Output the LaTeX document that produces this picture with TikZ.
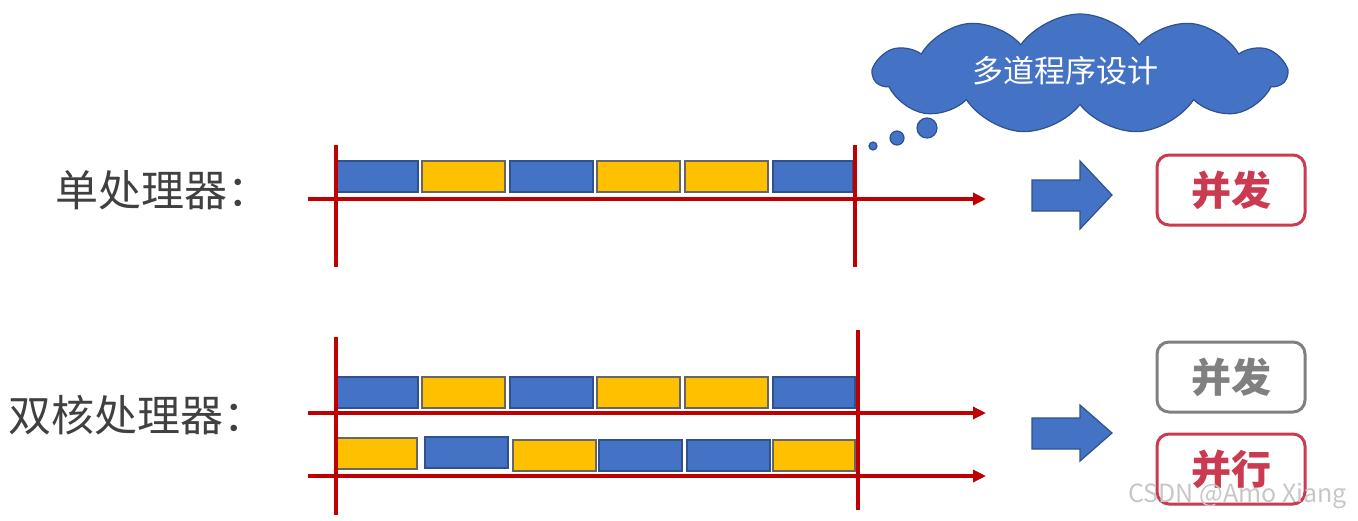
\documentclass[tikz,border=0pt]{standalone}
\usepackage{fontspec}
\setmainfont{Noto Sans CJK SC}
\usetikzlibrary{arrows.meta, shapes.symbols}
\definecolor{cpublue}{HTML}{4472C4}
\definecolor{cpublueedge}{HTML}{2F528F}
\definecolor{cpuyellow}{HTML}{FFC000}
\definecolor{timered}{HTML}{C00000}
\definecolor{tagred}{HTML}{CA3A50}
\definecolor{taggray}{HTML}{808080}
\definecolor{labelgray}{HTML}{404040}
\begin{document}
\begin{tikzpicture}[x=0.5pt, y=-0.5pt,
  bluejob/.style={draw=cpublueedge, fill=cpublue, line width=0.6pt},
  yellowjob/.style={draw=black!60, fill=cpuyellow, line width=0.6pt},
  timeline/.style={draw=timered, line width=2pt},
  timeaxis/.style={timeline, -{Triangle[length=6.5pt,width=6pt]}},
  tag/.style={draw=#1, text=#1, line width=1.5pt, rounded corners=6pt,
    minimum width=74pt, minimum height=35pt, font=\fontsize{20}{24}\selectfont\bfseries},
  cpulabel/.style={anchor=west, text=labelgray, font=\fontsize{21.5}{26}\selectfont, inner sep=0pt},
  bigarrow/.style={draw=cpublueedge, fill=cpublue, line width=0.6pt}]

\useasboundingbox (0,0) rectangle (1358,520);

% cloud
\node[cloud, cloud puffs=11, cloud puff arc=110, cloud ignores aspect,
  draw=cpublueedge, fill=cpublue, line width=0.6pt,
  minimum width=206pt, minimum height=60pt] (cloud) at (1080,74) {};
\node[text=white, font=\fontsize{15.5}{18}\selectfont] (cloudtext) at (1065,71) {多道程序设计};
\draw[bigarrow] (927,128) circle (5pt);
\draw[bigarrow] (897,138) circle (3.5pt);
\draw[bigarrow] (873,146) circle (2pt);

% single processor
\node[cpulabel] (single) at (55,190) {单处理器：};

\coordinate (s0) at (308,199);
\coordinate (s1) at (986,199);
\coordinate (sa) at (336,145);
\coordinate (sb) at (336,267);
\coordinate (sc) at (855,145);
\coordinate (sd) at (855,267);

\draw[bluejob] (337,161) rectangle (418,192);
\draw[yellowjob] (422,161) rectangle (505,192);
\draw[bluejob] (510,161) rectangle (593,192);
\draw[yellowjob] (597,161) rectangle (680,192);
\draw[yellowjob] (685,161) rectangle (768,192);
\draw[bluejob] (773,161) rectangle (853,192);

\draw[timeaxis] (s0) -- (s1);
\draw[timeline] (sa) -- (sb);
\draw[timeline] (sc) -- (sd);

\draw[bigarrow] (1032,180) -- (1080,180) -- (1080,161) -- (1112,195)
  -- (1080,229) -- (1080,211) -- (1032,211) -- cycle;
\node[tag=tagred] (conc1) at (1231,190) {并发};

% dual core
\node[cpulabel] (dual) at (8,415) {双核处理器：};

\coordinate (d0) at (308,413);
\coordinate (d1) at (986,413);
\coordinate (e0) at (308,476);
\coordinate (e1) at (986,476);
\coordinate (da) at (336,337);
\coordinate (db) at (336,515);
\coordinate (dc) at (858,330);
\coordinate (dd) at (858,510);

\draw[bluejob] (337,377) rectangle (418,408);
\draw[yellowjob] (422,377) rectangle (505,408);
\draw[bluejob] (510,377) rectangle (593,408);
\draw[yellowjob] (597,377) rectangle (680,408);
\draw[yellowjob] (685,377) rectangle (768,408);
\draw[bluejob] (773,377) rectangle (855,408);

\draw[yellowjob] (336,438) rectangle (417,469);
\draw[bluejob] (425,437) rectangle (508,468);
\draw[yellowjob] (513,440) rectangle (596,471);
\draw[bluejob] (599,440) rectangle (682,471);
\draw[bluejob] (687,440) rectangle (770,471);
\draw[yellowjob] (773,440) rectangle (855,471);

\draw[timeaxis] (d0) -- (d1);
\draw[timeaxis] (e0) -- (e1);
\draw[timeline] (da) -- (db);
\draw[timeline] (dc) -- (dd);

\draw[bigarrow] (1032,418) -- (1080,418) -- (1080,405) -- (1112,433)
  -- (1080,461) -- (1080,449) -- (1032,449) -- cycle;
\node[tag=taggray] (conc2) at (1231,377) {并发};
\node[tag=tagred] (par) at (1231,469) {并行};

\node[text=black!22, font=\fontsize{12.5}{14}\selectfont, anchor=east] (mark) at (1354,496) {CSDN @Amo Xiang};

\end{tikzpicture}
\end{document}
